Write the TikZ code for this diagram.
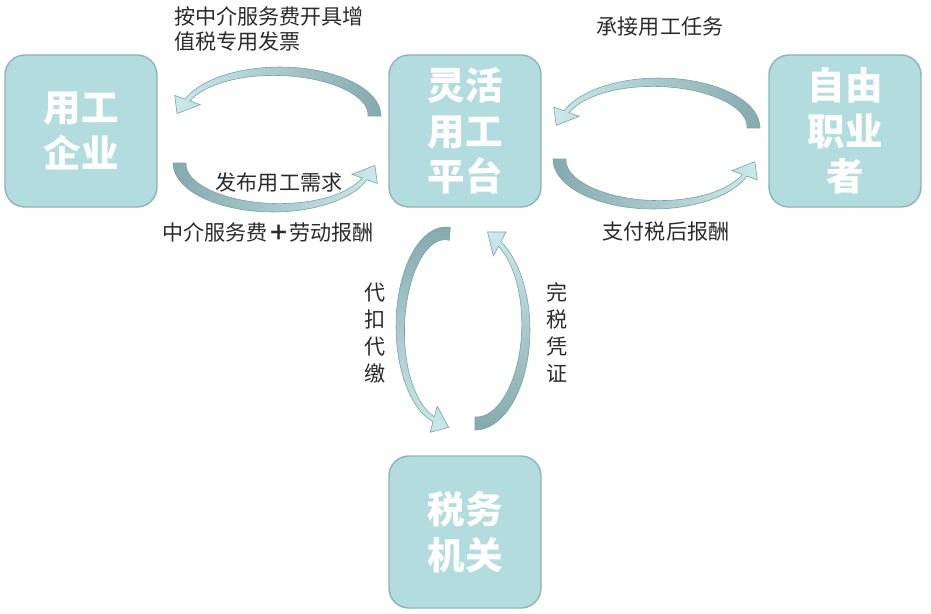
\documentclass[tikz,border=0pt]{standalone}
\usepackage{fontspec}
\setmainfont{Noto Sans CJK SC}
\usepackage{tikz}
\usetikzlibrary{shapes}
\definecolor{boxfill}{HTML}{B3DCDF}
\definecolor{boxline}{HTML}{8DB4B7}
\definecolor{arrowdark}{HTML}{85AAAD}
\definecolor{arrowlight}{HTML}{CBE9EB}
\definecolor{arrowline}{HTML}{7C9FA2}
\definecolor{labeltext}{HTML}{2B2B2B}
\tikzstyle{party}=[draw=boxline,line width=1.2pt,fill=boxfill,rounded corners=17pt,
  minimum width=4.56cm,minimum height=4.56cm,inner sep=0pt,align=center,
  text=white,font=\fontsize{32}{39}\selectfont\bfseries]
\tikzstyle{flow label}=[text=labeltext,inner sep=0pt,font=\fontsize{18}{22}\selectfont]
\tikzstyle{upright label}=[flow label,align=center,font=\fontsize{18}{23}\selectfont]
\tikzstyle{band}=[draw=arrowline,line width=0.5pt]
% curved band arrow: centre x/y, radii, tail angle, neck angle, shading
\newcommand{\bendarrow}[7]{%
  \pgfmathsetmacro\nx{#1+(#3-2.5)*cos(#6)}
  \pgfmathsetmacro\ny{#2-(#4-2.5)*sin(#6)}
  \pgfmathsetmacro\tx{-(#3-2.5)*sin(#6)}
  \pgfmathsetmacro\ty{-(#4-2.5)*cos(#6)}
  \pgfmathsetmacro\tl{veclen(\tx,\ty)}
  \shadedraw[band,#7]
    plot[domain=0:1,samples=40,variable=\s]
      ({#1+(#3)*cos(#5+(#6-#5)*\s)},{#2-(#4)*sin(#5+(#6-#5)*\s)})
    -- ({#1+(#3+11)*cos(#6)},{#2-(#4+11)*sin(#6)})
    -- ({\nx+17*\tx/\tl},{\ny+17*\ty/\tl})
    -- ({#1+(#3-16)*cos(#6)},{#2-(#4-16)*sin(#6)})
    -- plot[domain=0:1,samples=40,variable=\s]
      ({#1+(#3-5-8*\s)*cos(#6+(#5-#6)*\s)},{#2-(#4-5-8*\s)*sin(#6+(#5-#6)*\s)})
    -- cycle;
}

\begin{document}
\begin{tikzpicture}[x=0.03cm,y=-0.03cm]
    \useasboundingbox (0,0) rectangle (931,613);
    % First we draw the four parties
    \foreach \pos/\name/\lbl in {{(81,131)/firm/用工\\企业}, {(465,131)/platform/灵活\\用工\\平台},
        {(845,131)/worker/自由\\职业\\者}, {(465,532)/tax/税务\\机关}}
        \node[party] (\name) at \pos {\lbl};

    % Then the curved arrows between them
    \bendarrow{280}{116}{101}{49}{0}{160}{left color=arrowlight,right color=arrowdark}
    \bendarrow{273}{163}{100}{49}{180}{340}{left color=arrowdark,right color=arrowlight}
    \bendarrow{659}{128}{101}{50}{0}{160}{left color=arrowlight,right color=arrowdark}
    \bendarrow{653}{159}{100}{50}{180}{340}{left color=arrowdark,right color=arrowlight}
    \bendarrow{446}{326}{50}{99}{85}{255}{top color=arrowdark,bottom color=arrowlight}
    \bendarrow{475}{330}{55}{100}{270}{422}{top color=arrowlight,bottom color=arrowdark}

    % Labels of the flows
    \node[flow label,align=left,anchor=west] (invoice) at (174,29) {按中介服务费开具增\\值税专用发票};
    \node[flow label] (demand) at (279,182) {发布用工需求};
    \node[flow label] (fee) at (268,232) {中介服务费{\bfseries ＋}劳动报酬};
    \node[flow label] (task) at (660,27) {承接用工任务};
    \node[flow label] (pay) at (666,232) {支付税后报酬};
    \node[upright label] (withhold) at (375,333) {代\\扣\\代\\缴};
    \node[upright label] (receipt) at (557,333) {完\\税\\凭\\证};
\end{tikzpicture}
\end{document}
